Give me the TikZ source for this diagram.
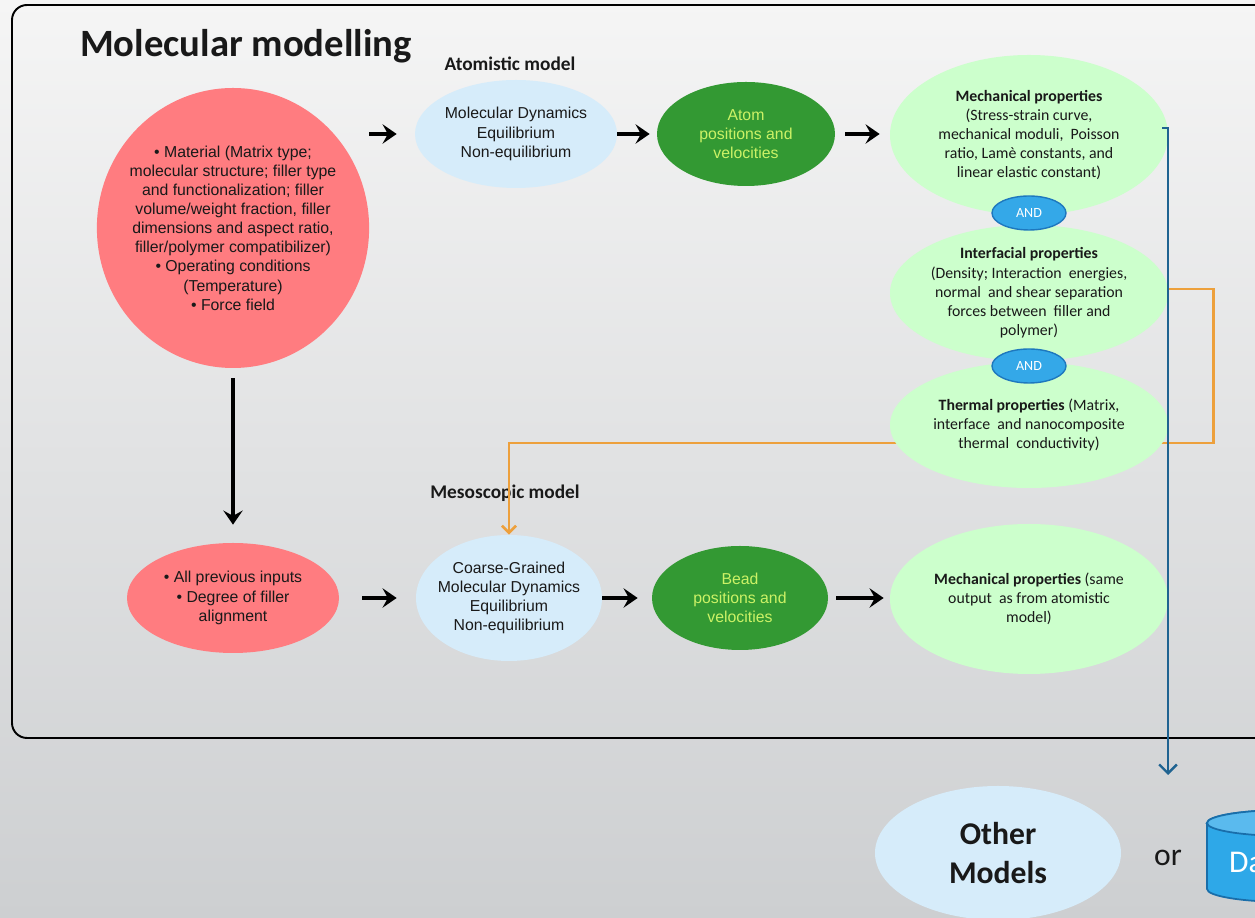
\documentclass[tikz,border=0pt]{standalone}
\usepackage{fontspec}
\setmainfont{Liberation Sans}
\newfontfamily\carlito{Carlito}
\usetikzlibrary{arrows.meta,shapes.geometric}
\definecolor{redfill}{RGB}{255,124,128}
\definecolor{bluefill}{RGB}{214,236,250}
\definecolor{dkgreen}{RGB}{51,153,51}
\definecolor{limetext}{RGB}{204,242,102}
\definecolor{ltgreen}{RGB}{204,255,204}
\definecolor{andfill}{RGB}{52,168,232}
\definecolor{andline}{RGB}{30,120,190}
\definecolor{outblue}{RGB}{31,99,145}
\definecolor{feedorange}{RGB}{237,160,60}
\definecolor{bgtop}{RGB}{245,245,245}
\definecolor{bgbot}{RGB}{205,207,209}
\definecolor{dbfill}{RGB}{46,168,232}
\definecolor{dbtop}{RGB}{90,186,238}
\definecolor{dbline}{RGB}{25,110,170}

\begin{document}
\begin{tikzpicture}[>=Latex, text=black!90,
 ell/.style={ellipse,inner sep=-4pt,align=center,font=\fontsize{9}{10.9}\selectfont},
 redell/.style={ell,fill=redfill},
 blueell/.style={ell,fill=bluefill},
 greenell/.style={ell,fill=dkgreen,text=limetext},
 propell/.style={ell,fill=ltgreen,font=\carlito\fontsize{9}{10.9}\selectfont},
 andell/.style={ellipse,draw=andline,line width=.8pt,fill=andfill,text=white,inner sep=0pt,
   minimum width=1.48cm,minimum height=.68cm,font=\carlito\fontsize{8}{9}\selectfont},
 head/.style={font=\carlito\bfseries\fontsize{11}{13}\selectfont},
 arr/.style={-{Stealth[length=8pt,width=11pt,inset=3pt]},line width=2pt},
 outarr/.style={-{Straight Barb[length=5pt,width=10pt]},line width=1.4pt,draw=outblue},
 feedarr/.style={-{Straight Barb[length=4pt,width=8pt]},line width=1.5pt,draw=feedorange}]
\useasboundingbox (0,0) rectangle (25.1,18.36);
\clip (0,0) rectangle (25.1,18.36);
\shade[top color=bgtop,bottom color=bgbot] (0,0) rectangle (25.1,18.36);
\draw[line width=1.1pt,rounded corners=.3cm] (.24,18.26) rectangle (25.8,3.6);
\node[anchor=base west,font=\carlito\bfseries\fontsize{22}{26}\selectfont] (title) at (1.48,17.22) {Molecular modelling};
\node[head] (atlab) at (10.2,17.08) {Atomistic model};
\node[head] (mslab) at (10.1,8.5) {Mesoscopic model};

% inputs
\node[redell,minimum width=5.24cm,minimum height=5.6cm] (mat) at (4.66,13.8)
 {\textbullet\ Material (Matrix type;\\molecular structure; filler type\\and functionalization; filler\\volume/weight fraction, filler\\dimensions and aspect ratio,\\filler/polymer compatibilizer)\\\textbullet\ Operating conditions\\(Temperature)\\\textbullet\ Force field};
\node[redell,minimum width=4.24cm,minimum height=2.2cm] (inp2) at (4.66,6.4)
 {\textbullet\ All previous inputs\\\textbullet\ Degree of filler\\alignment};

% atomistic row
\node[blueell,minimum width=4.04cm,minimum height=2.16cm] (md) at (10.32,15.68)
 {Molecular Dynamics\\Equilibrium\\Non-equilibrium};
\node[greenell,minimum width=3.56cm,minimum height=2.08cm] (atom) at (14.92,15.68)
 {Atom\\positions and\\velocities};
\node[propell,minimum width=5.56cm,minimum height=3.2cm] (mech1) at (20.58,15.66)
 {\textbf{Mechanical properties}\\(Stress-strain curve,\\mechanical moduli, \ Poisson\\ratio, Lamè constants, and\\linear elastic constant)};
\node[propell,minimum width=5.56cm,minimum height=2.72cm] (interf) at (20.58,12.5)
 {\textbf{Interfacial properties}\\(Density; Interaction \ energies,\\normal \ and shear separation\\forces between \ filler and\\polymer)};
\node[andell] (and1) at (20.58,14.1) {AND};

% mesoscopic row
\node[blueell,minimum width=3.72cm,minimum height=2.52cm] (cg) at (10.18,6.4)
 {Coarse-Grained\\Molecular Dynamics\\Equilibrium\\Non-equilibrium};
\node[greenell,minimum width=3.52cm,minimum height=2.08cm] (bead) at (14.8,6.4)
 {Bead\\positions and\\velocities};
\node[propell,minimum width=5.56cm,minimum height=3cm] (mech2) at (20.58,6.38)
 {\textbf{Mechanical properties} (same\\output \ as from atomistic\\model)};

% feedback to mesoscopic model
\coordinate (turn) at (10.18,9.5);
\draw[feedarr] (interf.east) ++(0,.08) -- ++(.9,0) |- (turn) -- (cg.north);
\node[propell,minimum width=5.56cm,minimum height=2.52cm] (therm) at (20.58,9.86)
 {\textbf{Thermal properties} (Matrix,\\interface \ and nanocomposite\\thermal \ conductivity)};
\node[andell] (and2) at (20.58,11.04) {AND};

\draw[arr,shorten >=.36cm] (mat.east |- md.west) -- (md.west);
\draw[arr,shorten >=.14cm] (md.east) -- (atom.west);
\draw[arr,shorten <=.2cm,shorten >=.2cm] (atom.east) -- (atom.east -| mech1.west);
\draw[arr,shorten <=.2cm,shorten >=.36cm] (mat.south) -- (inp2.north);
\draw[arr,shorten <=.46cm,shorten >=.38cm] (inp2.east) -- (cg.west);
\draw[arr,shorten >=.28cm] (cg.east) -- (bead.west);
\draw[arr,shorten <=.16cm,shorten >=.12cm] (bead.east) -- (bead.east -| mech2.west);

% output
\coordinate (dbin) at (23.36,2.86);
\draw[outarr] ([xshift=-.12cm,yshift=.14cm]mech1.east) -| (dbin);
\node[ellipse,fill=bluefill,minimum width=4.92cm,minimum height=2.68cm,inner sep=0pt,align=center,
 font=\carlito\bfseries\fontsize{18}{22.7}\selectfont] (other) at (19.96,1.3) {Other\\Models};
\node[font=\carlito\fontsize{18}{22}\selectfont] (or) at (23.36,1.2) {or};
\fill[dbfill,draw=dbline,line width=1pt] (24.14,1.9) -- (24.14,.58)
 arc[start angle=180,end angle=360,x radius=1.6,y radius=.26] -- (27.34,1.9)
 arc[start angle=0,end angle=180,x radius=1.6,y radius=.26] -- cycle;
\draw[dbline,fill=dbtop,line width=1pt] (25.74,1.9) ellipse[x radius=1.6,y radius=.26];
\node[anchor=west,text=white,font=\carlito\fontsize{18}{22}\selectfont] (db) at (24.46,1.12) {Database};
\end{tikzpicture}
\end{document}
